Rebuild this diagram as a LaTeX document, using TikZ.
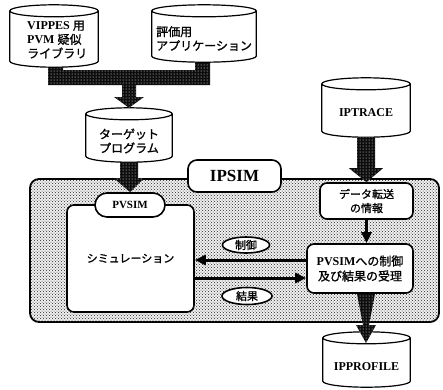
\documentclass[tikz,border=0pt]{standalone}
\usepackage{fontspec}
\setmainfont{Liberation Serif}
\newfontfamily\jpfont{Noto Sans CJK JP}[AutoFakeBold=1.2]
\newcommand\jtext[1]{{\jpfont\bfseries #1}}
\usetikzlibrary{arrows.meta,patterns,shapes.geometric,calc}
\newcommand\drawcyl[2]{%
  \path let \p1=(#1.north west), \p2=(#1.south east), \n1={(\x2-\x1)/2} in
    [cylline] (\x1,\y1-#2) -- (\x1,\y2+#2)
      arc[start angle=180,end angle=360,x radius=\n1,y radius=#2]
      -- (\x2,\y1-#2)
      arc[start angle=0,end angle=180,x radius=\n1,y radius=#2] -- cycle
    (\x1,\y1-#2) arc[start angle=180,end angle=360,x radius=\n1,y radius=#2];
}
\tikzset{
  geom/.style={draw=none, inner sep=0pt},
  cylline/.style={draw, line width=1.2pt, fill=white},
  cyltext/.style={inner sep=0pt, align=left, font=\fontsize{12}{14}\selectfont\bfseries},
  area/.style={draw, line width=1.8pt, rounded corners=9pt, fill=black!6,
    postaction={pattern=crosshatch dots, pattern color=black!85}},
  box/.style={draw, line width=1.6pt, fill=white, rounded corners=7pt, inner sep=0pt,
    align=center, font=\fontsize{12}{15}\selectfont\bfseries},
  tag/.style={draw, ellipse, line width=1.6pt, fill=white, inner sep=0pt,
    font=\fontsize{11}{13}\selectfont},
  hatch/.style={fill=black!95, postaction={pattern=dots, pattern color=white}},
  thinarrow/.style={line width=3pt, -{Triangle[length=11pt,width=10pt]}},
}
\begin{document}
\begin{tikzpicture}[x=1pt,y=-1pt]
\useasboundingbox (0,0) rectangle (443,389);
% geometry of cylinders
\node[geom, minimum width=88pt, minimum height=62pt] (vip) at (54,36) {};
\node[geom, minimum width=104pt, minimum height=57pt] (hy) at (204,33.5) {};
\node[geom, minimum width=86pt, minimum height=54pt] (tg) at (129,135) {};
\node[geom, minimum width=88pt, minimum height=59pt] (ipt) at (366,107.5) {};
\node[geom, minimum width=87pt, minimum height=55pt] (ipp) at (366.5,359.5) {};
% IPSIM area
\node[area, minimum width=409pt, minimum height=143pt] (areabox) at (234.5,250.5) {};
% target program
\drawcyl{tg}{6pt}
\node[cyltext, align=center] (tgt) at (129,141) {\jtext{ターゲット}\\\jtext{プログラム}};
% merging hatched connector
\path[hatch] (48,60) -- (48,85) -- (122,85) -- (122,97) -- (114,97) -- (tg.north)
  -- (144,97) -- (136,97) -- (136,85) -- (210,85) -- (210,52) -- (195,52)
  -- (195,70) -- (63,70) -- (63,60) -- cycle;
% source cylinders
\drawcyl{vip}{6pt}
\node[cyltext, anchor=west] (vipt) at (27,39.5) {VIPPES \jtext{用}\\PVM \jtext{疑似}\\\jtext{ライブラリ}};
\drawcyl{hy}{6pt}
\node[cyltext, anchor=west] (hyt) at (156,38.5) {\jtext{評価用}\\\jtext{アプリケーション}};
% IPSIM label
\node[box, rounded corners=9pt, minimum width=93pt, minimum height=32pt,
  font=\fontsize{17}{19}\selectfont\bfseries] (ipsim) at (234.5,176) {IPSIM};
% simulation box
\node[box, minimum width=127pt, minimum height=107pt, font=\fontsize{11}{13}\selectfont] (sim) at (130.5,258.5) {\jtext{シミュレーション}};
\node[box, rounded corners=12pt, minimum width=70pt, minimum height=24pt,
  font=\fontsize{11}{13}\selectfont\bfseries] (pvl) at (130,205) {PVSIM};
% target -> PVSIM
\path[hatch] ([xshift=-9pt]tg.south) -- ++(0,16) -- ++(-6,0) -- (pvl.north)
  -- ([xshift=15pt,yshift=-16pt]tg.south) -- ++(-6,0) -- ([xshift=9pt]tg.south) -- cycle;
% right column
\node[box, minimum width=93pt, minimum height=36pt, font=\fontsize{11}{14}\selectfont] (dt) at (366.5,201) {\jtext{データ転送}\\\jtext{の情報}};
\drawcyl{ipt}{6pt}
\node[cyltext] (iptt) at (366,113) {IPTRACE};
\path[hatch] ([xshift=-9pt]ipt.south) -- ++(0,31) -- ++(-8,0) -- (dt.north)
  -- ([xshift=17pt,yshift=-31pt]ipt.south) -- ++(-8,0) -- ([xshift=9pt]ipt.south) -- cycle;
\node[box, minimum width=106pt, minimum height=49pt] (pv) at (360,268.5) {PVSIM\jtext{への制御}\\\jtext{及び結果の受理}};
\draw[thinarrow] (dt.south) -- (dt.south |- pv.north);
% bottom cylinder
\drawcyl{ipp}{6pt}
\node[cyltext] (ippt) at (366.5,367) {IPPROFILE};
\path[hatch] ([xshift=-3pt]pv.south) -- (363,325) -- (356,325) -- (366,343)
  -- (376,325) -- (369,325) -- ([xshift=15pt]pv.south) -- cycle;
% control / result arrows
\draw[thinarrow] ([yshift=8.5pt]pv.west) -- ([yshift=8.5pt]pv.west -| sim.east);
\draw[thinarrow] ([yshift=-9.5pt]pv.west -| sim.east) -- ([yshift=-9.5pt]pv.west);
\node[tag, minimum width=47pt, minimum height=16pt] (ctl) at (246,245) {\jtext{制御}};
\node[tag, minimum width=50pt, minimum height=17pt] (res) at (247,296) {\jtext{結果}};
\end{tikzpicture}
\end{document}
